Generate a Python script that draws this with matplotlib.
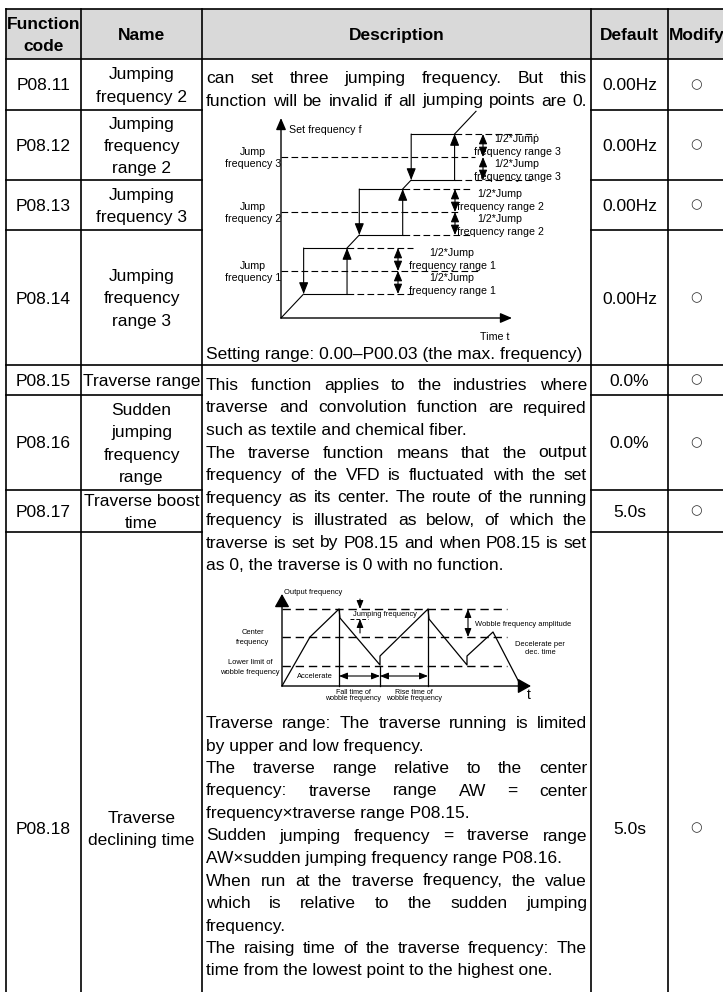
import matplotlib
matplotlib.use("Agg")
import matplotlib.pyplot as plt
from matplotlib.font_manager import FontProperties
from matplotlib.patches import Rectangle

plt.rcParams['font.family'] = ['Liberation Sans', 'DejaVu Sans']

# table text ##########################################################################
headers = ["Function\ncode", "Name", "Description", "Default", "Modify"]
codes = ["P08.11", "P08.12", "P08.13", "P08.14", "P08.15", "P08.16", "P08.17", "P08.18"]
names = ["Jumping\nfrequency 2", "Jumping\nfrequency\nrange 2", "Jumping\nfrequency 3",
         "Jumping\nfrequency\nrange 3", "Traverse range", "Sudden\njumping\nfrequency\nrange",
         "Traverse boost\ntime", "Traverse\ndeclining time"]
defaults = ["0.00Hz", "0.00Hz", "0.00Hz", "0.00Hz", "0.0%", "0.0%", "5.0s", "5.0s"]
modify = ["○"] * 8

# (line, justified)
desc_a = [("can set three jumping frequency. But this", 1),
          ("function will be invalid if all jumping points are 0.", 1)]
desc_a_end = "Setting range: 0.00–P00.03 (the max. frequency)"
desc_b = [("This function applies to the industries where", 1),
          ("traverse and convolution function are required", 1),
          ("such as textile and chemical fiber.", 0),
          ("The traverse function means that the output", 1),
          ("frequency of the VFD is fluctuated with the set", 1),
          ("frequency as its center. The route of the running", 1),
          ("frequency is illustrated as below, of which the", 1),
          ("traverse is set by P08.15 and when P08.15 is set", 1),
          ("as 0, the traverse is 0 with no function.", 0)]
desc_c = [("Traverse range: The traverse running is limited", 1),
          ("by upper and low frequency.", 0),
          ("The traverse range relative to the center", 1),
          ("frequency: traverse range AW = center", 1),
          ("frequency×traverse range P08.15.", 0),
          ("Sudden jumping frequency = traverse range", 1),
          ("AW×sudden jumping frequency range P08.16.", 0),
          ("When run at the traverse frequency, the value", 1),
          ("which is relative to the sudden jumping", 1),
          ("frequency.", 0),
          ("The raising time of the traverse frequency: The", 1),
          ("time from the lowest point to the highest one.", 0)]

# diagram 1: jumping frequency ########################################################
jump_centre = [47, 106, 161]
jump_half = 23
ramp_slope = 1.06
ramp_end = 195
range_arrow_t = [117, 174, 202]
range_label_t = [171, 219, 236]
centre_dash_end = [197, 179, 194]
edge_dash_end = [132, 189, 255]

# diagram 2: traverse #################################################################
wob_low, wob_mid, wob_up = 20, 49, 77
wave_t = [0, 28, 57, 58, 98, 98, 146, 147, 185, 185, 211, 239]
wave_f = [0, 49, 77, 68, 21, 30, 77, 67, 21, 30, 54, 0]
fall_t, rise_t, rise_end_t = 57, 98, 146

# layout ##############################################################################
W, H = 723, 992
col_x = [6, 81, 202, 591, 668, 726]
row_y = [9, 59, 110, 180, 230, 365, 395, 490, 532, 1124]
merged = {2, 3, 4, 6, 7, 8}
FS = 12.5
LS = 22.5
BASE = 6
DX0, DX1 = col_x[2] + 4, col_x[3] - 4

fig = plt.figure(figsize=(W / 100, H / 100), dpi=100)
ax = fig.add_axes([0, 0, 1, 1])
ax.set_xlim(0, W)
ax.set_ylim(H, 0)
ax.axis('off')
renderer = fig.canvas.get_renderer()
fp = FontProperties(family=['Liberation Sans', 'DejaVu Sans'], size=FS)

ax.add_patch(Rectangle((col_x[0], row_y[0]), col_x[-1] - col_x[0], row_y[1] - row_y[0],
                       facecolor='#d9d9d9', edgecolor='none', zorder=0))
lk = dict(color='black', lw=1.2, solid_capstyle='projecting')
for i, y in enumerate(row_y):
    if i in merged:
        ax.plot([col_x[0], col_x[2]], [y, y], **lk)
        ax.plot([col_x[3], col_x[5]], [y, y], **lk)
    else:
        ax.plot([col_x[0], col_x[5]], [y, y], **lk)
for x in col_x:
    ax.plot([x, x], [row_y[0], row_y[-1]], **lk)


def block(xc, yc, s, bold=False):
    lines = s.split('\n')
    y0 = yc - (len(lines) - 1) * LS / 2
    for k, ln in enumerate(lines):
        ax.text(xc, y0 + k * LS + BASE, ln, ha='center', va='baseline', fontsize=FS,
                fontweight='bold' if bold else 'normal')


def desc_line(y, s, just):
    if not just:
        ax.text(DX0, y + BASE, s, ha='left', va='baseline', fontsize=FS)
        return
    words = s.split()
    widths = [renderer.get_text_width_height_descent(w, fp, ismath=False)[0] for w in words]
    gap = (DX1 - DX0 - sum(widths)) / (len(words) - 1)
    x = DX0
    for w, wd in zip(words, widths):
        ax.text(x, y + BASE, w, ha='left', va='baseline', fontsize=FS)
        x += wd + gap


for j, h in enumerate(headers):
    block((col_x[j] + col_x[j + 1]) / 2, (row_y[0] + row_y[1]) / 2, h, bold=True)

for r in range(len(codes)):
    yc = (row_y[r + 1] + row_y[r + 2]) / 2
    if r == 7:
        yc = 828
    block((col_x[0] + col_x[1]) / 2, yc, codes[r])
    block((col_x[1] + col_x[2]) / 2, yc, names[r])
    block((col_x[3] + col_x[4]) / 2, yc, defaults[r])
    ax.text((col_x[4] + col_x[5]) / 2 - 1, yc, modify[r], ha='center', va='center',
            fontsize=9.5, family=['DejaVu Sans'], color='#333333')

for k, (s, j) in enumerate(desc_a):
    desc_line(77 + k * LS, s, j)
desc_line(353, desc_a_end, 0)
for k, (s, j) in enumerate(desc_b):
    desc_line(384 + k * LS, s, j)
for k, (s, j) in enumerate(desc_c):
    desc_line(722 + k * LS, s, j)

# diagram 1 ###########################################################################
ox, oy = 281, 318
x0, x1, y0, y1 = 200, 591, 110, 348
ax1 = fig.add_axes([x0 / W, 1 - y1 / H, (x1 - x0) / W, (y1 - y0) / H])
ax1.set_xlim(x0 - ox, x1 - ox)
ax1.set_ylim(oy - y1, oy - y0)
ax1.axis('off')
d1 = dict(color='black', lw=0.8)
dash1 = dict(color='black', lw=0.8, ls=(0, (6, 3)))
fs1 = 7.7

ax1.annotate('', xy=(0, 200), xytext=(0, 0),
             arrowprops=dict(arrowstyle='-|>,head_length=0.7,head_width=0.3', color='black',
                             lw=1, shrinkA=0, shrinkB=0))
ax1.annotate('', xy=(231, 0), xytext=(0, 0),
             arrowprops=dict(arrowstyle='-|>,head_length=0.7,head_width=0.3', color='black',
                             lw=1, shrinkA=0, shrinkB=0))
ax1.text(8, 188, "Set frequency f", fontsize=fs1, va='center', ha='left')
ax1.text(214, -19, "Time t", fontsize=fs1, va='center', ha='center')

low = [c - jump_half for c in jump_centre]
up = [c + jump_half for c in jump_centre]
a = [v / ramp_slope for v in low]
b = [v / ramp_slope for v in up]
ramp_t = [0] + b
ramp_s = a + [ramp_end]
for t0, t1 in zip(ramp_t, ramp_s):
    ax1.plot([t0, t1], [ramp_slope * t0, ramp_slope * t1], **d1)

arr_small = dict(arrowstyle='-|>,head_length=0.7,head_width=0.28', color='black', lw=0.8,
                 shrinkA=0, shrinkB=0)
dbl_small = dict(arrowstyle='<|-|>,head_length=0.6,head_width=0.25', color='black', lw=0.8,
                 shrinkA=0, shrinkB=0)
for k in range(3):
    c = jump_centre[k]
    ax1.plot([a[k], b[k]], [low[k], low[k]], **d1)
    ax1.plot([a[k], b[k]], [up[k], up[k]], **d1)
    ax1.annotate('', xy=(a[k], low[k]), xytext=(a[k], up[k]), arrowprops=arr_small)
    ax1.annotate('', xy=(b[k], up[k]), xytext=(b[k], low[k]), arrowprops=arr_small)
    ax1.plot([b[k], edge_dash_end[k]], [low[k], low[k]], **dash1)
    ax1.plot([b[k], edge_dash_end[k]], [up[k], up[k]], **dash1)
    ax1.plot([0, centre_dash_end[k]], [c, c], **dash1)
    ta = range_arrow_t[k]
    ax1.annotate('', xy=(ta, up[k]), xytext=(ta, c), arrowprops=dbl_small)
    ax1.annotate('', xy=(ta, c), xytext=(ta, low[k]), arrowprops=dbl_small)
    tl = range_label_t[k]
    ax1.text(tl, c + 18, "1/2*Jump", fontsize=fs1, ha='center', va='center')
    ax1.text(tl, c + 5, "frequency range %d" % (k + 1), fontsize=fs1, ha='center', va='center')
    ax1.text(tl, c - 7, "1/2*Jump", fontsize=fs1, ha='center', va='center')
    ax1.text(tl, c - 20, "frequency range %d" % (k + 1), fontsize=fs1, ha='center', va='center')
    ax1.text(-28, c + 5, "Jump", fontsize=fs1, ha='center', va='center')
    ax1.text(-28, c - 7, "frequency %d" % (k + 1), fontsize=fs1, ha='center', va='center')

# diagram 2 ###########################################################################
ox, oy = 282, 686
x0, x1, y0, y1 = 200, 600, 580, 705
ax2 = fig.add_axes([x0 / W, 1 - y1 / H, (x1 - x0) / W, (y1 - y0) / H])
ax2.set_xlim(x0 - ox, x1 - ox)
ax2.set_ylim(oy - y1, oy - y0)
ax2.axis('off')
d2 = dict(color='black', lw=0.9)
dash2 = dict(color='black', lw=1.0, ls=(0, (6, 3.5)))
fs2 = 5.4

ax2.annotate('', xy=(0, 92), xytext=(0, 0),
             arrowprops=dict(arrowstyle='-|>,head_length=0.8,head_width=0.45', color='black',
                             lw=1, shrinkA=0, shrinkB=0))
ax2.annotate('', xy=(249, 0), xytext=(0, 0),
             arrowprops=dict(arrowstyle='-|>,head_length=0.8,head_width=0.45', color='black',
                             lw=1, shrinkA=0, shrinkB=0))
for lv in (wob_low, wob_mid, wob_up):
    ax2.plot([0, 225], [lv, lv], **dash2)
ax2.plot(wave_t, wave_f, **d2)
ax2.plot([fall_t, fall_t], [0, wob_up], **d2)
ax2.plot([rise_t, rise_t], [0, wob_low], **d2)
ax2.plot([rise_end_t, rise_end_t], [0, wob_up], **d2)
dbl2 = dict(arrowstyle='<|-|>,head_length=0.5,head_width=0.2', color='black', lw=0.8,
            shrinkA=0, shrinkB=0)
ax2.annotate('', xy=(fall_t, 10), xytext=(rise_t, 10), arrowprops=dbl2)
ax2.annotate('', xy=(rise_t, 10), xytext=(rise_end_t, 10), arrowprops=dbl2)
ax2.annotate('', xy=(186, wob_up), xytext=(186, wob_mid), arrowprops=dbl2)
one2 = dict(arrowstyle='-|>,head_length=0.5,head_width=0.2', color='black', lw=0.8,
            shrinkA=0, shrinkB=0)
ax2.annotate('', xy=(78, wob_up), xytext=(78, 87), arrowprops=one2)
ax2.annotate('', xy=(78, 67), xytext=(78, 53), arrowprops=one2)
ax2.plot([68, 86], [67, 67], color='black', lw=0.7, ls=(0, (4, 2)))

ax2.text(2, 94, "Output frequency", fontsize=fs2, ha='left', va='center')
ax2.text(-29, 54, "Center", fontsize=fs2, ha='center', va='center')
ax2.text(-29, 44, "frequency", fontsize=fs2, ha='center', va='center')
ax2.text(-32, 23, "Lower limit of", fontsize=fs2, ha='center', va='center')
ax2.text(-32, 14, "wobble frequency", fontsize=fs2, ha='center', va='center')
ax2.text(33, 10, "Accelerate", fontsize=fs2, ha='center', va='center')
ax2.text(103, 71, "Jumping frequency", fontsize=fs2, ha='center', va='center')
ax2.text(193, 62, "Wobble frequency amplitude", fontsize=fs2, ha='left', va='center')
ax2.text(258, 41, "Decelerate per", fontsize=fs2, ha='center', va='center')
ax2.text(258, 33, "dec. time", fontsize=fs2, ha='center', va='center')
fs2b = 5.1
ax2.text(71, -6, "Fall time of", fontsize=fs2b, ha='center', va='center')
ax2.text(71, -13, "wobble frequency", fontsize=fs2b, ha='center', va='center')
ax2.text(132, -6, "Rise time of", fontsize=fs2b, ha='center', va='center')
ax2.text(132, -13, "wobble frequency", fontsize=fs2b, ha='center', va='center')
ax2.text(247, -9, "t", fontsize=10, ha='center', va='center')

fig.savefig('out.png', dpi=100)
